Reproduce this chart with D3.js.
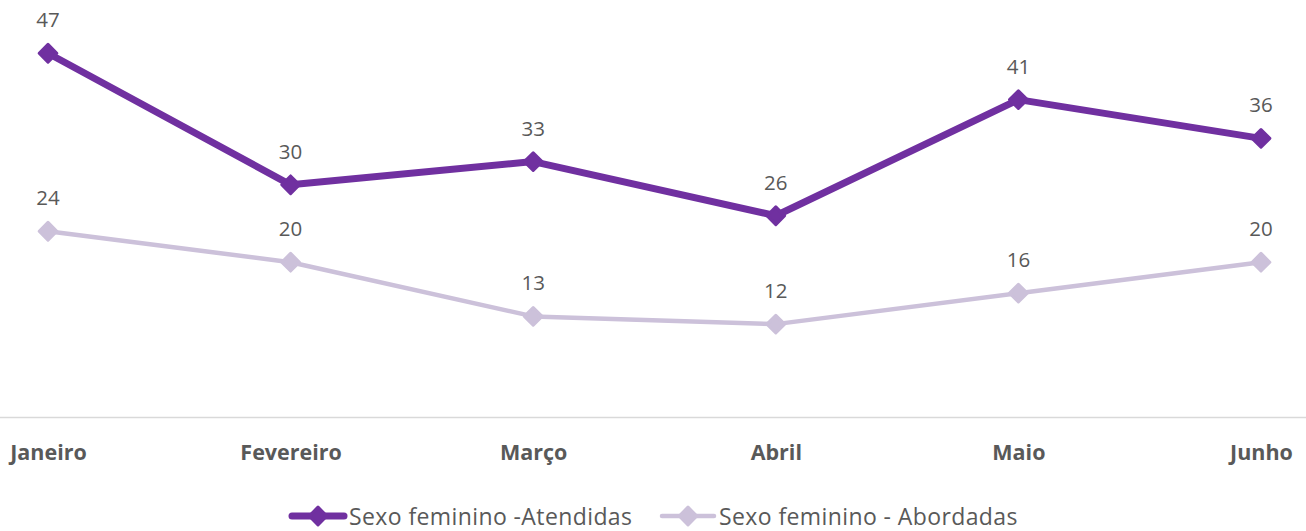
<!DOCTYPE html>
<html>
<head>
<meta charset="utf-8">
<script src="https://cdn.jsdelivr.net/npm/d3@7"></script>
<style>
  body { margin: 0; background: #fff; }
  svg { display: block; font-family: "Open Sans", sans-serif; }
</style>
</head>
<body>
<svg id="chart"></svg>
<script>
const months = ["Janeiro", "Fevereiro", "Março", "Abril", "Maio", "Junho"];
const atendidas = [47, 30, 33, 26, 41, 36];
const abordadas = [24, 20, 13, 12, 16, 20];
const seriesNames = ["Sexo feminino -Atendidas", "Sexo feminino - Abordadas"];

const width = 1306, height = 531;
const textColor = "#595959";

const svg = d3.select("svg#chart")
    .attr("width", width)
    .attr("height", height);

const x = d3.scalePoint().domain(months).range([48, 1261]);
const y = d3.scaleLinear().domain([0, 50]).range([417, 30]);

// category axis
const xAxis = svg.append("g")
    .attr("transform", `translate(0,${y(0)})`)
    .call(d3.axisBottom(x).tickSize(0).tickPadding(0));
xAxis.select(".domain")
    .attr("d", `M0,0.5H${width}`)
    .attr("stroke", "#d9d9d9")
    .attr("stroke-width", 1.5);
xAxis.selectAll("text")
    .attr("y", 43)
    .attr("dy", 0)
    .attr("fill", textColor)
    .attr("font-size", 21.5)
    .attr("font-weight", "bold")
    .attr("font-family", "'Open Sans', sans-serif");

const diamond = d3.symbol().type(d3.symbolDiamond2).size(200);

const series = [
    { name: seriesNames[1], values: abordadas, color: "#ccc1da", width: 4.5 },
    { name: seriesNames[0], values: atendidas, color: "#7030a0", width: 7 }
];

const line = d3.line()
    .x((d, i) => x(months[i]))
    .y(d => y(d));

series.forEach(s => {
    const g = svg.append("g");
    g.append("path")
        .datum(s.values)
        .attr("d", line)
        .attr("fill", "none")
        .attr("stroke", s.color)
        .attr("stroke-width", s.width)
        .attr("stroke-linejoin", "round");
    g.selectAll("path.marker")
        .data(s.values)
        .join("path")
        .attr("class", "marker")
        .attr("d", diamond)
        .attr("transform", (d, i) => `translate(${x(months[i])},${y(d)})`)
        .attr("fill", s.color)
        .attr("stroke", s.color)
        .attr("stroke-width", 3)
        .attr("stroke-linejoin", "round");
    g.selectAll("text")
        .data(s.values)
        .join("text")
        .attr("x", (d, i) => x(months[i]))
        .attr("y", d => y(d) - 26)
        .attr("text-anchor", "middle")
        .attr("fill", textColor)
        .attr("font-size", 20.5)
        .text(d => d);
});

// legend
const legendItems = [
    { name: seriesNames[0], color: "#7030a0", width: 7, x: 290 },
    { name: seriesNames[1], color: "#ccc1da", width: 4.5, x: 660 }
];
const legend = svg.append("g").attr("transform", "translate(0,516)");
legendItems.forEach(l => {
    const g = legend.append("g").attr("transform", `translate(${l.x},0)`);
    g.append("line")
        .attr("x1", 2).attr("x2", 54)
        .attr("stroke", l.color)
        .attr("stroke-width", l.width)
        .attr("stroke-linecap", "round");
    g.append("path")
        .attr("d", diamond)
        .attr("transform", "translate(28,0)")
        .attr("fill", l.color)
        .attr("stroke", l.color)
        .attr("stroke-width", 3)
        .attr("stroke-linejoin", "round");
    g.append("text")
        .attr("x", 59)
        .attr("y", 8.5)
        .attr("fill", textColor)
        .attr("font-size", 23)
        .attr("letter-spacing", 0.4)
        .text(l.name);
});
</script>
</body>
</html>
